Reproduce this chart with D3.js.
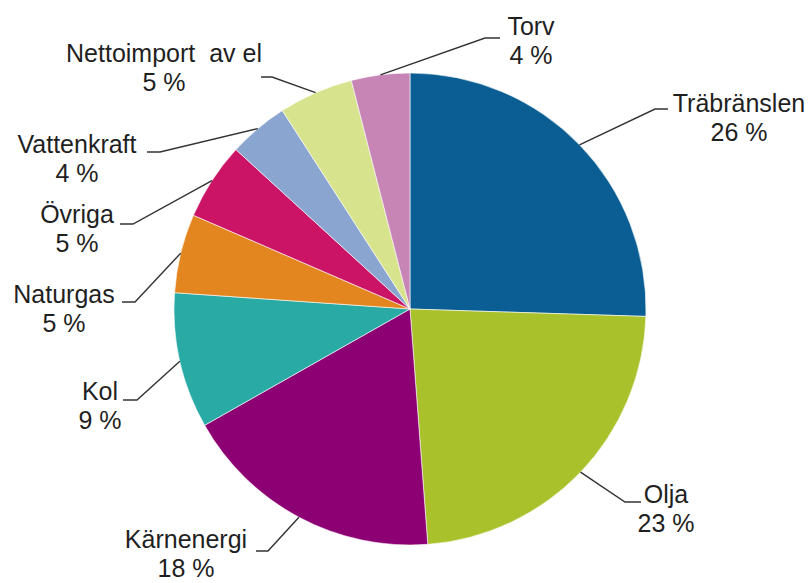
<!DOCTYPE html>
<html>
<head>
<meta charset="utf-8">
<script src="https://cdn.jsdelivr.net/npm/d3@7"></script>
<style>
  html, body { margin: 0; padding: 0; background: #fff; }
  svg { display: block; }
  text { font-family: "Liberation Sans", Arial, sans-serif; fill: #1f1f1f; white-space: pre; }
</style>
</head>
<body>
<svg id="chart" width="810" height="583"></svg>
<script>
// ---- Data (share of total energy supply, %) ----
const categories = ["Träbränslen", "Olja", "Kärnenergi", "Kol", "Naturgas", "Övriga", "Vattenkraft", "Nettoimport  av el", "Torv"];
const values = [25.5, 23.3, 18.0, 9.3, 5.4, 5.3, 4.1, 5.1, 4.0];
const colors = ["#0b5e93", "#a9c12a", "#8c0074", "#2aaaa5", "#e3861f", "#cc1467", "#8aa5cf", "#d7e38d", "#c785b6"];

// ---- Label layout (text centre/baseline, leader elbow, leader end) ----
const labelLayout = [
  { tx: 739, ty: 112, ex: 655, ey: 109, hx: 668 },
  { tx: 666, ty: 503, ex: 625, ey: 502, hx: 641 },
  { tx: 186, ty: 548, ex: 268, ey: 551, hx: 256 },
  { tx: 100, ty: 400, ex: 137, ey: 400, hx: 123 },
  { tx: 64,  ty: 303, ex: 135, ey: 302, hx: 122 },
  { tx: 77,  ty: 223, ex: 133, ey: 224, hx: 120 },
  { tx: 77,  ty: 153, ex: 160, ey: 152, hx: 147 },
  { tx: 164, ty: 62,  ex: 272, ey: 77,  hx: 261 },
  { tx: 531, ty: 35,  ex: 485, ey: 38,  hx: 500 }
];

const cx = 410, cy = 309, R = 236;
const svg = d3.select("#chart");
const data = categories.map((c, i) => ({ name: c, value: values[i], color: colors[i], layout: labelLayout[i] }));

const pie = d3.pie().value(d => d.value).sort(null);
const arcs = pie(data);
const arc = d3.arc().innerRadius(0).outerRadius(R);

const g = svg.append("g").attr("transform", `translate(${cx},${cy})`);
g.selectAll("path.slice")
  .data(arcs)
  .enter().append("path")
  .attr("class", "slice")
  .attr("d", arc)
  .attr("fill", d => d.data.color)
  .attr("stroke", "#ffffff")
  .attr("stroke-width", 0.6);

// leader lines
const edge = a => {
  const m = (a.startAngle + a.endAngle) / 2;
  return [cx + R * Math.sin(m), cy - R * Math.cos(m)];
};
svg.selectAll("polyline.leader")
  .data(arcs)
  .enter().append("polyline")
  .attr("class", "leader")
  .attr("points", d => {
    const p = edge(d), L = d.data.layout;
    return [p, [L.ex, L.ey], [L.hx, L.ey]].map(q => q.join(",")).join(" ");
  })
  .attr("fill", "none")
  .attr("stroke", "#333")
  .attr("stroke-width", 1.4);

// labels
const lbl = svg.selectAll("g.label")
  .data(arcs)
  .enter().append("g")
  .attr("class", "label");
lbl.append("text")
  .attr("x", d => d.data.layout.tx)
  .attr("y", d => d.data.layout.ty)
  .attr("text-anchor", "middle")
  .attr("font-size", 25)
  .text(d => d.data.name);
lbl.append("text")
  .attr("x", d => d.data.layout.tx)
  .attr("y", d => d.data.layout.ty + 29)
  .attr("text-anchor", "middle")
  .attr("font-size", 25)
  .text(d => Math.round(d.data.value) + " %");
</script>
</body>
</html>
